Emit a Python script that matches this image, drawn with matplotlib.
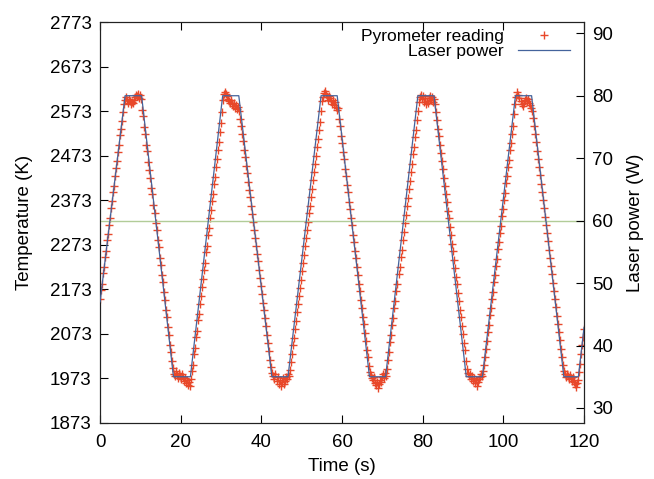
import numpy as np
import matplotlib
matplotlib.use("Agg")
import matplotlib.pyplot as plt
from matplotlib.lines import Line2D

plt.rcParams['font.family'] = ['Liberation Sans', 'DejaVu Sans']

# Pyrometer temperature readings (K), sampled every 0.25 s from t = 0
temperature = [
    2152, 2171, 2186, 2209, 2224, 2246, 2258, 2283, 2297, 2318, 2333, 2356, 2371, 2392, 2405, 2428,
    2446, 2462, 2481, 2497, 2519, 2534, 2551, 2570, 2588,
    2597, 2604, 2599, 2592, 2600, 2595, 2588, 2594, 2591, 2598, 2604, 2610, 2606, 2612, 2603, 2609, 2600,
    2575, 2561, 2538, 2522, 2497, 2484, 2459, 2441, 2424, 2400, 2386, 2362, 2345, 2322, 2306, 2284,
    2268, 2244, 2228, 2205, 2189, 2166, 2150, 2127, 2110, 2088, 2071, 2049, 2033, 2012, 1996,
    1984, 1978, 1989, 1981, 1975, 1986, 1979, 1971, 1983, 1976, 1968, 1974, 1962, 1970, 1958, 1966, 1955, 1972,
    1990, 2004, 2027, 2041, 2066, 2080, 2103, 2118, 2141, 2157, 2178, 2196, 2216, 2233, 2257, 2271,
    2294, 2311, 2332, 2350, 2372, 2387, 2410, 2426, 2448, 2465, 2486, 2503, 2527, 2546, 2572,
    2598, 2611, 2617, 2612, 2606, 2601, 2596, 2592, 2598, 2588, 2584, 2591, 2580, 2586, 2577, 2582, 2574,
    2556, 2540, 2521, 2505, 2486, 2470, 2449, 2433, 2415, 2396, 2380, 2360, 2343, 2325, 2306, 2289,
    2271, 2253, 2236, 2216, 2199, 2180, 2163, 2143, 2126, 2108, 2090, 2071, 2053, 2035, 2015, 1999,
    1986, 1979, 1972, 1983, 1968, 1976, 1961, 1970, 1957, 1965, 1974, 1960, 1968, 1977, 1971, 1982, 1978,
    1993, 2010, 2028, 2047, 2064, 2084, 2101, 2121, 2139, 2158, 2176, 2195, 2213, 2233, 2250, 2270,
    2288, 2306, 2325, 2344, 2361, 2381, 2399, 2418, 2436, 2455, 2473, 2493, 2511, 2530, 2549, 2574,
    2596, 2605, 2614, 2619, 2611, 2605, 2599, 2608, 2602, 2596, 2590, 2598, 2586, 2593, 2582, 2575, 2580,
    2555, 2539, 2518, 2502, 2481, 2465, 2444, 2428, 2407, 2391, 2370, 2354, 2333, 2317, 2296, 2280,
    2259, 2243, 2222, 2206, 2185, 2169, 2148, 2132, 2111, 2095, 2074, 2058, 2037, 2021, 2001,
    1988, 1980, 1974, 1969, 1977, 1963, 1958, 1966, 1951, 1960, 1970, 1964, 1976, 1982, 1973, 1985, 1979,
    1995, 2015, 2032, 2054, 2070, 2092, 2109, 2131, 2147, 2169, 2186, 2207, 2224, 2246, 2262, 2284,
    2301, 2322, 2339, 2361, 2377, 2399, 2416, 2437, 2454, 2476, 2492, 2514, 2531, 2552, 2574,
    2593, 2604, 2609, 2600, 2607, 2594, 2602, 2588, 2596, 2591, 2603, 2608, 2599, 2605, 2594, 2600, 2588,
    2570, 2553, 2534, 2517, 2497, 2480, 2460, 2443, 2423, 2406, 2386, 2369, 2349, 2332, 2312, 2295,
    2275, 2258, 2238, 2221, 2201, 2184, 2164, 2147, 2127, 2110, 2090, 2073, 2053, 2036, 2013,
    1994, 1985, 1978, 1983, 1972, 1979, 1967, 1974, 1962, 1969, 1956, 1964, 1971, 1977, 1984, 1979, 1990,
    2003, 2020, 2040, 2057, 2077, 2094, 2115, 2131, 2152, 2168, 2189, 2205, 2226, 2242, 2263, 2279,
    2300, 2316, 2337, 2353, 2374, 2390, 2411, 2427, 2448, 2464, 2485, 2501, 2522, 2540, 2566,
    2590, 2604, 2615, 2609, 2602, 2596, 2589, 2584, 2592, 2598, 2603, 2595, 2600, 2591, 2586, 2579, 2574,
    2557, 2540, 2521, 2503, 2484, 2466, 2447, 2429, 2410, 2392, 2373, 2355, 2336, 2318, 2299, 2281,
    2262, 2244, 2225, 2207, 2188, 2170, 2151, 2133, 2114, 2096, 2077, 2059, 2040, 2022, 2004,
    1990, 1982, 1976, 1984, 1978, 1971, 1980, 1974, 1968, 1976, 1965, 1960, 1954, 1962, 1970,
    1988, 2005, 2028, 2047, 2066, 2085,
]
sample_dt = 0.25
time = np.arange(len(temperature)) * sample_dt

# Laser power set-point (W): breakpoints of the trapezoidal waveform
laser_time = [0, 6.2, 10.3, 18.2, 22.4, 30.4, 34.4, 42.6, 46.6, 54.8, 58.8, 66.8, 70.8,
              78.8, 82.8, 90.8, 94.8, 103.0, 107.0, 115.0, 118.6, 120]
laser_power = [47, 80, 80, 35, 35, 80, 80, 35, 35, 80, 80, 35, 35,
               80, 80, 35, 35, 80, 80, 35, 35, 42.9]
mean_power = 60

temp_ticks = [1873, 1973, 2073, 2173, 2273, 2373, 2473, 2573, 2673, 2773]
power_ticks = [30, 40, 50, 60, 70, 80, 90]
time_ticks = [0, 20, 40, 60, 80, 100, 120]

fig = plt.figure(figsize=(6.54, 4.79), dpi=100)
ax = fig.add_axes([0.153, 0.117, 0.740, 0.837])
ax2 = ax.twinx()

red = '#e8482a'
blue = '#44639c'
green = '#b2cc98'

ax.plot(time, temperature, linestyle='none', marker='+', color=red,
        markersize=6, markeredgewidth=1.0, zorder=3)
ax2.axhline(mean_power, color=green, lw=1.0, zorder=1)
ax2.plot(laser_time, laser_power, color=blue, lw=0.9, zorder=4)

ax.set_xlim(0, 120)
ax.set_ylim(1873, 2773)
ax2.set_ylim(27.6, 91.8)
ax.set_xticks(time_ticks)
ax.set_yticks(temp_ticks)
ax2.set_yticks(power_ticks)

fs = 13.5
ax.tick_params(axis='x', direction='in', top=True, length=6, width=0.8, labelsize=fs, pad=8)
ax.tick_params(axis='y', direction='in', right=False, length=6, width=0.8, labelsize=fs, pad=6)
ax2.tick_params(axis='y', direction='in', length=6, width=0.8, labelsize=fs, pad=6)
for a in (ax, ax2):
    for s in a.spines.values():
        s.set_linewidth(0.8)
        s.set_color('#222222')

ax.set_xlabel('Time (s)', fontsize=fs, labelpad=5)
ax.set_ylabel('Temperature (K)', fontsize=fs, labelpad=12)
ax2.set_ylabel('Laser power (W)', fontsize=fs, labelpad=10)

handles = [Line2D([], [], linestyle='none', marker='+', color=red, markersize=6, markeredgewidth=1.0),
           Line2D([], [], color=blue, lw=0.9)]
leg = ax2.legend(handles, ['Pyrometer reading', 'Laser power'], loc='upper right',
                 frameon=False, markerfirst=False, fontsize=12.5, handlelength=3.0,
                 borderaxespad=0.0, labelspacing=0.0, handletextpad=0.8,
                 bbox_to_anchor=(0.985, 1.0))
for txt in leg.get_texts():
    txt.set_ha('right')
leg._legend_box.align = 'right'

fig.savefig('out.png', dpi=100)
